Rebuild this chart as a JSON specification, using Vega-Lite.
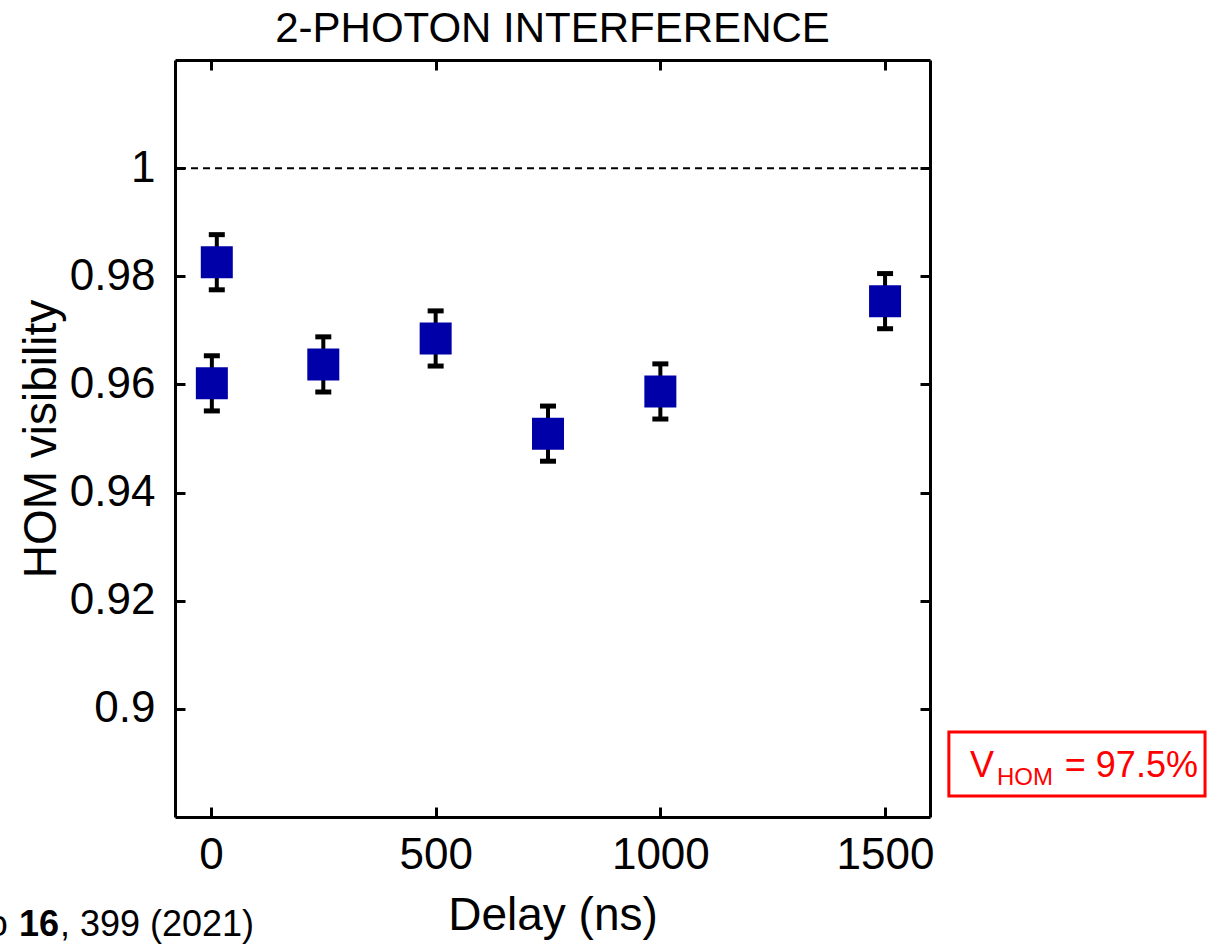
{
  "$schema": "https://vega.github.io/schema/vega-lite/v6.json",
  "width": 755,
  "height": 757,
  "autosize": {"type": "none"},
  "padding": {"left": 175, "top": 60, "right": 285, "bottom": 128},
  "background": "white",
  "title": {
    "text": "2-PHOTON INTERFERENCE",
    "font": "Liberation Sans",
    "fontSize": 42,
    "fontWeight": "normal",
    "color": "black",
    "anchor": "middle",
    "offset": 8
  },
  "config": {
    "view": {"stroke": null},
    "axis": {
      "grid": false,
      "domainColor": "black",
      "domainWidth": 3,
      "tickColor": "black",
      "tickWidth": 3,
      "tickSize": -10,
      "labelFont": "Liberation Sans",
      "labelFontSize": 44,
      "labelColor": "black",
      "titleFont": "Liberation Sans",
      "titleFontSize": 46,
      "titleFontWeight": "normal",
      "titleColor": "black"
    }
  },
  "datasets": {
    "hom": [
      {"delay": 2, "v": 0.9602, "lo": 0.9551, "hi": 0.9653},
      {"delay": 13, "v": 0.9826, "lo": 0.9775, "hi": 0.9877},
      {"delay": 250, "v": 0.9637, "lo": 0.9586, "hi": 0.9688},
      {"delay": 500, "v": 0.9685, "lo": 0.9634, "hi": 0.9736},
      {"delay": 750, "v": 0.9509, "lo": 0.9458, "hi": 0.9560},
      {"delay": 1000, "v": 0.9587, "lo": 0.9536, "hi": 0.9638},
      {"delay": 1500, "v": 0.9754, "lo": 0.9703, "hi": 0.9805}
    ],
    "one": [{"note": "annotation"}]
  },
  "data": {"name": "hom"},
  "resolve": {"axis": {"x": "independent", "y": "independent"}},
  "layer": [
    {
      "mark": {"type": "point", "opacity": 0},
      "encoding": {
        "x": {"field": "delay", "type": "quantitative",
              "scale": {"domain": [-80, 1600], "nice": false, "zero": false},
              "axis": {"orient": "top", "values": [0, 500, 1000, 1500], "labels": false, "title": null}},
        "y": {"field": "v", "type": "quantitative",
              "scale": {"domain": [0.88, 1.02], "nice": false, "zero": false},
              "axis": {"orient": "right", "values": [0.9, 0.92, 0.94, 0.96, 0.98, 1], "labels": false, "title": null}}
      }
    },
    {
      "mark": {"type": "errorbar", "color": "black", "opacity": 1, "thickness": 4, "ticks": {"size": 16, "thickness": 5, "color": "black", "opacity": 1}, "rule": {"color": "black", "opacity": 1}, "clip": false},
      "encoding": {
        "x": {"field": "delay", "type": "quantitative", "axis": null},
        "y": {"field": "lo", "type": "quantitative", "axis": null},
        "y2": {"field": "hi"}
      }
    },
    {
      "mark": {"type": "point", "shape": "square", "filled": true, "size": 1024, "color": "#0000A8", "opacity": 1, "strokeWidth": 0},
      "encoding": {
        "x": {"field": "delay", "type": "quantitative",
              "axis": {"orient": "bottom", "values": [0, 500, 1000, 1500], "format": "d", "title": "Delay (ns)", "labelPadding": 26, "titlePadding": 16}},
        "y": {"field": "v", "type": "quantitative",
              "axis": {"orient": "left", "values": [0.9, 0.92, 0.94, 0.96, 0.98, 1], "format": "~g", "title": "HOM visibility", "labelPadding": 30, "titlePadding": 4}}
      }
    },
    {
      "data": {"name": "one"},
      "mark": {"type": "rule", "color": "black", "strokeWidth": 2, "strokeDash": [7, 5]},
      "encoding": {"y": {"datum": 1, "axis": null}}
    },
    {
      "data": {"name": "one"},
      "mark": {"type": "rect", "fill": null, "stroke": "#FF0000", "strokeWidth": 3, "clip": false},
      "encoding": {
        "x": {"datum": 1642, "axis": null}, "x2": {"datum": 2212},
        "y": {"datum": 0.8957, "axis": null}, "y2": {"datum": 0.8839}
      }
    },
    {
      "data": {"name": "one"},
      "mark": {"type": "text", "text": "V", "font": "Liberation Sans", "fontSize": 36, "color": "#FF0000", "align": "left", "baseline": "alphabetic", "clip": false},
      "encoding": {"x": {"datum": 1689, "axis": null}, "y": {"datum": 0.8874, "axis": null}}
    },
    {
      "data": {"name": "one"},
      "mark": {"type": "text", "text": "HOM", "font": "Liberation Sans", "fontSize": 24, "color": "#FF0000", "align": "left", "baseline": "alphabetic", "clip": false},
      "encoding": {"x": {"datum": 1749, "axis": null}, "y": {"datum": 0.8859, "axis": null}}
    },
    {
      "data": {"name": "one"},
      "mark": {"type": "text", "text": "= 97.5%", "font": "Liberation Sans", "fontSize": 36, "color": "#FF0000", "align": "left", "baseline": "alphabetic", "clip": false},
      "encoding": {"x": {"datum": 1900, "axis": null}, "y": {"datum": 0.8874, "axis": null}}
    },
    {
      "data": {"name": "one"},
      "mark": {"type": "text", "text": "Nat. Nano", "font": "Liberation Sans", "fontSize": 36, "color": "black", "align": "right", "baseline": "alphabetic", "clip": false},
      "encoding": {"x": {"datum": -452, "axis": null}, "y": {"datum": 0.858, "axis": null}}
    },
    {
      "data": {"name": "one"},
      "mark": {"type": "text", "text": "16", "font": "Liberation Sans", "fontSize": 36, "fontWeight": "bold", "color": "black", "align": "left", "baseline": "alphabetic", "clip": false},
      "encoding": {"x": {"datum": -427, "axis": null}, "y": {"datum": 0.858, "axis": null}}
    },
    {
      "data": {"name": "one"},
      "mark": {"type": "text", "text": ", 399 (2021)", "font": "Liberation Sans", "fontSize": 36, "color": "black", "align": "left", "baseline": "alphabetic", "clip": false},
      "encoding": {"x": {"datum": -336, "axis": null}, "y": {"datum": 0.858, "axis": null}}
    }
  ]
}
